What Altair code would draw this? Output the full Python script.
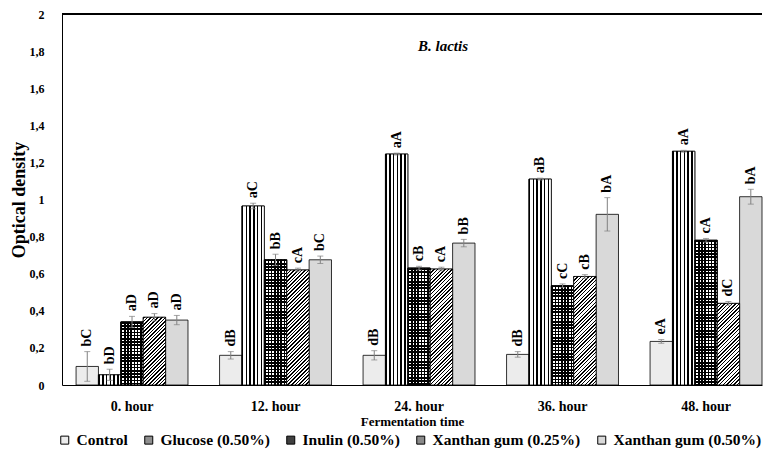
import math
import altair as alt
import pandas as pd

times = ["0. hour", "12. hour", "24. hour", "36. hour", "48. hour"]
series = ["Control", "Glucose (0.50%)", "Inulin (0.50%)", "Xanthan gum (0.25%)", "Xanthan gum (0.50%)"]

control = [0.10, 0.16, 0.16, 0.165, 0.235]
glucose = [0.055, 0.965, 1.245, 1.11, 1.26]
inulin = [0.34, 0.675, 0.63, 0.535, 0.78]
xg25 = [0.365, 0.62, 0.625, 0.585, 0.44]
xg50 = [0.35, 0.675, 0.765, 0.92, 1.015]

control_err = [0.08, 0.02, 0.025, 0.015, 0.01]
glucose_err = [0.03, 0.015, 0.005, 0.005, 0.005]
inulin_err = [0.03, 0.03, 0.01, 0.01, 0.01]
xg25_err = [0.02, 0.01, 0.01, 0.01, 0.01]
xg50_err = [0.025, 0.02, 0.02, 0.09, 0.04]

control_lbl = ["bC", "dB", "dB", "dB", "eA"]
glucose_lbl = ["bD", "aC", "aA", "aB", "aA"]
inulin_lbl = ["aD", "bB", "cB", "cC", "cA"]
xg25_lbl = ["aD", "cA", "cA", "cB", "dC"]
xg50_lbl = ["aD", "bC", "bB", "bA", "bA"]

vals = [control, glucose, inulin, xg25, xg50]
errs = [control_err, glucose_err, inulin_err, xg25_err, xg50_err]
lbls = [control_lbl, glucose_lbl, inulin_lbl, xg25_lbl, xg50_lbl]

rows = []
for s, v, e, l in zip(series, vals, errs, lbls):
    for t, vv, ee, ll in zip(times, v, e, l):
        rows.append({"time": t, "series": s, "value": vv, "err": ee,
                     "lo": vv - ee, "hi": vv + ee, "label": ll})
df = pd.DataFrame(rows)

W, H = 700, 371
P_IN, P_OUT = 0.22, 0.049
step = W / (len(times) - P_IN + 2 * P_OUT)
BW = step * (1 - P_IN) / len(series)
FONT = "Liberation Serif"


def clamp(o):
    return round(min(max(o, 0.0), 1.0), 5)


def stripes_x(n, dark_frac, dark, light):
    stops = []
    for i in range(n):
        a, b, c = i / n, (i + dark_frac) / n, (i + 1) / n
        stops += [{"offset": clamp(a), "color": dark}, {"offset": clamp(b), "color": dark},
                  {"offset": clamp(b), "color": light}, {"offset": clamp(c), "color": light}]
    return {"gradient": "linear", "x1": 0, "y1": 0, "x2": 1, "y2": 0, "stops": stops}


def stripes_y(h, period, dark_frac, dark, light):
    n = max(1, math.ceil(h / period))
    stops = []
    for i in range(n):
        a, b, c = i * period / h, (i + dark_frac) * period / h, (i + 1) * period / h
        stops += [{"offset": clamp(a), "color": light}, {"offset": clamp(a), "color": dark},
                  {"offset": clamp(b), "color": dark}, {"offset": clamp(b), "color": light},
                  {"offset": clamp(c), "color": light}]
    return {"gradient": "linear", "x1": 0, "y1": 0, "x2": 0, "y2": 1, "stops": stops}


def diagonal(h, w, period, dark_frac):
    L = w + h
    n = math.ceil(L / period)
    stops = []
    for i in range(n):
        a, b, c = i * period / L, (i + dark_frac) * period / L, (i + 1) * period / L
        stops += [{"offset": clamp(a), "color": "black"}, {"offset": clamp(b), "color": "black"},
                  {"offset": clamp(b), "color": "white"}, {"offset": clamp(c), "color": "white"}]
    k = (1 / h + 1 / w) / (1 / h ** 2 + 1 / w ** 2)
    return {"gradient": "linear", "x1": 0, "y1": 0, "x2": round(k / h, 6), "y2": round(k / w, 6), "stops": stops}


x_axis = alt.Axis(labelAngle=0, ticks=False, labelFontSize=14, labelPadding=14,
                  titleFontSize=13, titlePadding=2)
y_axis = alt.Axis(tickCount=10, ticks=False, grid=False, format=".1~f",
                  labelExpr="replace(datum.label, '.', ',')", labelFlush=False,
                  labelOverlap=False, labelBound=False, labelSeparation=0, labelFontSize=12, labelPadding=18,
                  titleFontSize=18, titlePadding=1)


def X():
    return alt.X("time:N", title="Fermentation time", axis=x_axis,
                 scale=alt.Scale(domain=times, paddingInner=P_IN, paddingOuter=P_OUT, align=1, round=False))


def XO():
    return alt.XOffset("series:N", scale=alt.Scale(domain=series, paddingInner=0, paddingOuter=0, round=False))


def Y(field):
    return alt.Y(field, title="Optical density", axis=y_axis, scale=alt.Scale(domain=[0, 2], nice=False))


base = alt.Chart(df)

legend = alt.Legend(orient="none", legendX=-5, legendY=418, direction="horizontal", columns=5, title=None,
                    symbolType="square", symbolSize=64, symbolStrokeColor="black", symbolStrokeWidth=1,
                    symbolOpacity=1, labelFontSize=15.5, labelOffset=4, columnPadding=13, padding=0)

fills = ["#ececec", "#8f8f8f", "#404040", "#8a8a8a", "#d9d9d9"]

bars = base.mark_bar(stroke="black", strokeWidth=0.8).encode(
    x=X(), xOffset=XO(), y=Y("value:Q"),
    color=alt.Color("series:N", scale=alt.Scale(domain=series, range=fills), legend=legend),
)

layers = [bars]

layers.append(base.transform_filter(alt.datum.series == series[1]).mark_bar(
    fill=stripes_x(6, 0.4, "black", "white"), stroke="black", strokeWidth=0.8
).encode(x=X(), xOffset=XO(), y=Y("value:Q")))

layers.append(base.transform_filter(alt.datum.series == series[2]).mark_bar(
    fill=stripes_x(7, 0.5, "black", "white"), stroke="black", strokeWidth=0.8
).encode(x=X(), xOffset=XO(), y=Y("value:Q")))
for t, v in zip(times, inulin):
    h = v / 2 * H
    layers.append(base.transform_filter(
        (alt.datum.series == series[2]) & (alt.datum.time == t)
    ).mark_bar(fill=stripes_y(h, 3.2, 0.5, "black", "rgba(0,0,0,0)"), stroke="black", strokeWidth=0.8
               ).encode(x=X(), xOffset=XO(), y=Y("value:Q")))

for t, v in zip(times, xg25):
    h = v / 2 * H
    layers.append(base.transform_filter(
        (alt.datum.series == series[3]) & (alt.datum.time == t)
    ).mark_bar(fill=diagonal(h, BW, 3.6, 0.42), stroke="black", strokeWidth=0.8
               ).encode(x=X(), xOffset=XO(), y=Y("value:Q")))

err_rule = base.mark_rule(color="#808080", strokeWidth=1).encode(
    x=X(), xOffset=XO(), y=Y("lo:Q"), y2="hi:Q")
err_top = base.mark_tick(color="#808080", thickness=1, size=6, orient="horizontal").encode(
    x=X(), xOffset=XO(), y=Y("hi:Q"))
err_bot = base.mark_tick(color="#808080", thickness=1, size=6, orient="horizontal").encode(
    x=X(), xOffset=XO(), y=Y("lo:Q"))

labels = base.mark_text(angle=270, align="left", baseline="middle", dx=5,
                        fontWeight="bold", fontSize=14, color="black").encode(
    x=X(), xOffset=XO(), y=Y("hi:Q"), text="label:N")

top_rule = base.mark_rule(color="black", strokeWidth=1).encode(y=alt.datum(2))

title_txt = alt.Chart(pd.DataFrame({"t": ["B. lactis"]})).mark_text(
    fontWeight="bold", fontStyle="italic", fontSize=15, color="black", dx=24
).encode(x=alt.datum("24. hour"), y=alt.datum(1.83), text="t:N")

layers += [err_rule, err_top, err_bot, labels, top_rule, title_txt]

chart = alt.layer(*layers).properties(
    width=W, height=H, padding={"left": 2, "top": 0, "right": 0, "bottom": 0}
).configure(font=FONT).configure_view(stroke=None).configure_axis(
    labelFont=FONT, titleFont=FONT, labelFontWeight="bold", titleFontWeight="bold",
    labelColor="black", titleColor="black", domainColor="black"
).configure_legend(labelFont=FONT, labelFontWeight="bold", labelColor="black").configure_text(font=FONT)

chart.save("out.html", embed_options={"renderer": "svg", "actions": False})
